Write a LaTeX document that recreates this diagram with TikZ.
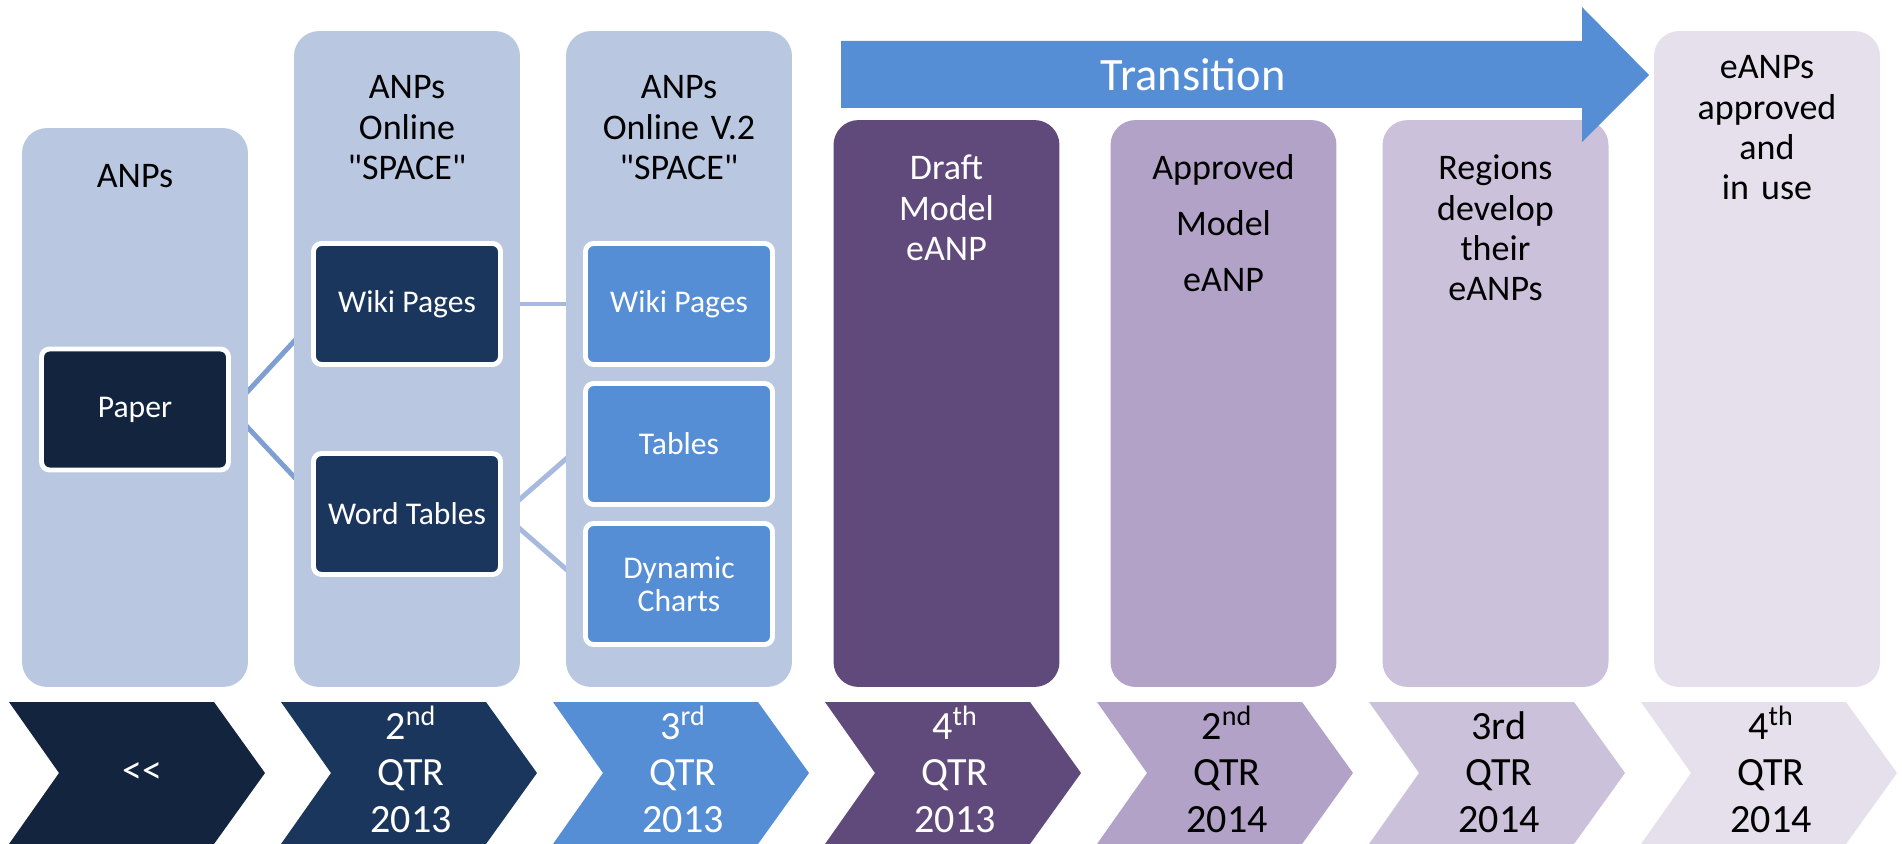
\documentclass[tikz,border=0pt]{standalone}
\usepackage{fontspec}
\setmainfont{Carlito}
\newfontfamily\rawfont{Carlito}
\usetikzlibrary{backgrounds}
\definecolor{colbg}{HTML}{B9C7E0}
\definecolor{navyA}{HTML}{13243F}
\definecolor{navyB}{HTML}{1B365D}
\definecolor{blueC}{HTML}{558ED5}
\definecolor{purpD}{HTML}{604A7B}
\definecolor{purpE}{HTML}{B3A2C7}
\definecolor{purpF}{HTML}{CCC1DA}
\definecolor{purpG}{HTML}{E5E0EC}
\definecolor{linkA}{HTML}{7F9ED2}
\definecolor{linkB}{HTML}{A7B9DE}

\begin{document}
\begin{tikzpicture}[x=0.02cm,y=-0.02cm,
    col/.style={rounded corners=0.5cm, minimum width=4.52cm, inner sep=0pt},
    hdr/.style={text width=4.3cm, align=center, anchor=base, inner sep=0pt, font=\fontsize{20.5}{22.8}\selectfont},
    item/.style={draw=white, line width=2.8pt, rounded corners=0.16cm, minimum width=3.74cm, minimum height=2.42cm, text=white, align=center, font=\fontsize{18}{19}\selectfont},
    link/.style={line width=2.8pt},
    qtr/.style={text width=4cm, align=center, anchor=base, inner sep=0pt, font=\fontsize{22.8}{26.5}\selectfont}]
    \useasboundingbox (0,0) rectangle (1902,844);
    % columns
    \node[col, fill=colbg, minimum height=11.18cm] (anps) at (135,407.5) {};
    \node[col, fill=colbg, minimum height=13.12cm] (online) at (407,359) {};
    \node[col, fill=colbg, minimum height=13.12cm] (online2) at (679,359) {};
    \node[col, fill=purpD, minimum height=11.34cm] (draft) at (946.5,403.5) {};
    \node[col, fill=purpE, minimum height=11.34cm] (approved) at (1223.5,403.5) {};
    \node[col, fill=purpF, minimum height=11.34cm] (regions) at (1495.5,403.5) {};
    \node[col, fill=purpG, minimum height=13.12cm] (inuse) at (1767,359) {};
    % column titles
    \node[hdr] (anpsT) at (135,188) {ANPs};
    \node[hdr] (onlineT) at (407,99) {ANPs\\Online\\{\rawfont"SPACE"}};
    \node[hdr] (online2T) at (679,99) {ANPs\\Online V.2\\{\rawfont"SPACE"}};
    \node[hdr, text=white] (draftT) at (946.5,180) {Draft\\Model\\eANP};
    \node[hdr] (approvedT) at (1223.5,180) {Approved\\[9pt]Model\\[9pt]eANP};
    \node[hdr] (regionsT) at (1495.5,180) {Regions\\develop\\their\\eANPs};
    \node[hdr] (inuseT) at (1767,79) {eANPs\\approved\\and\\in use};
    % boxes inside the columns
    \node[item, fill=navyA] (paper) at (135,409.5) {Paper};
    \node[item, fill=navyB] (wikia) at (407,304) {Wiki Pages};
    \node[item, fill=navyB] (worda) at (407,514) {Word Tables};
    \node[item, fill=blueC] (wikib) at (679,304) {Wiki Pages};
    \node[item, fill=blueC] (tablesb) at (679,444) {Tables};
    \node[item, fill=blueC] (dynb) at (679,584) {Dynamic\\Charts};
    \begin{pgfonlayer}{background}
    \draw[link, linkA] (paper.east) -- ([yshift=-10.8pt]wikia.west);
    \draw[link, linkA] (paper.east) -- ([yshift=10.8pt]worda.west);
    \draw[link, linkB] (wikia.east) -- (wikib.west);
    \draw[link, linkB] (worda.east) -- (tablesb.west);
    \draw[link, linkB] (worda.east) -- (dynb.west);
    \end{pgfonlayer}
    % transition arrow
    \fill[blueC] (841,41) -- (1582,41) -- (1582,7) -- (1649,75) -- (1582,142) -- (1582,108) -- (841,108) -- cycle;
    \node[white, anchor=base, inner sep=0pt, font=\fontsize{26.4}{30}\selectfont] (trans) at (1193,91) {Transition};
    % quarters
    \fill[navyA] (9,702) -- ++(205,0) -- ++(51,71) -- ++(-51,71) -- ++(-205,0) -- ++(50,-71) -- cycle;
    \fill[navyB] (281,702) -- ++(205,0) -- ++(51,71) -- ++(-51,71) -- ++(-205,0) -- ++(50,-71) -- cycle;
    \fill[blueC] (553,702) -- ++(205,0) -- ++(51,71) -- ++(-51,71) -- ++(-205,0) -- ++(50,-71) -- cycle;
    \fill[purpD] (825,702) -- ++(205,0) -- ++(51,71) -- ++(-51,71) -- ++(-205,0) -- ++(50,-71) -- cycle;
    \fill[purpE] (1097,702) -- ++(205,0) -- ++(51,71) -- ++(-51,71) -- ++(-205,0) -- ++(50,-71) -- cycle;
    \fill[purpF] (1369,702) -- ++(205,0) -- ++(51,71) -- ++(-51,71) -- ++(-205,0) -- ++(50,-71) -- cycle;
    \fill[purpG] (1641,702) -- ++(205,0) -- ++(51,71) -- ++(-51,71) -- ++(-205,0) -- ++(50,-71) -- cycle;
    \node[white, inner sep=0pt, font=\fontsize{22.8}{26.5}\selectfont] (q1) at (142,773) {<{}<};
    \node[qtr, text=white] (q2) at (411,739) {2\textsuperscript{nd}\\QTR\\2013};
    \node[qtr, text=white] (q3) at (683,739) {3\textsuperscript{rd}\\QTR\\2013};
    \node[qtr, text=white] (q4) at (955,739) {4\textsuperscript{th}\\QTR\\2013};
    \node[qtr] (q5) at (1227,739) {2\textsuperscript{nd}\\QTR\\2014};
    \node[qtr] (q6) at (1499,739) {3rd\\QTR\\2014};
    \node[qtr] (q7) at (1771,739) {4\textsuperscript{th}\\QTR\\2014};
\end{tikzpicture}
\end{document}
